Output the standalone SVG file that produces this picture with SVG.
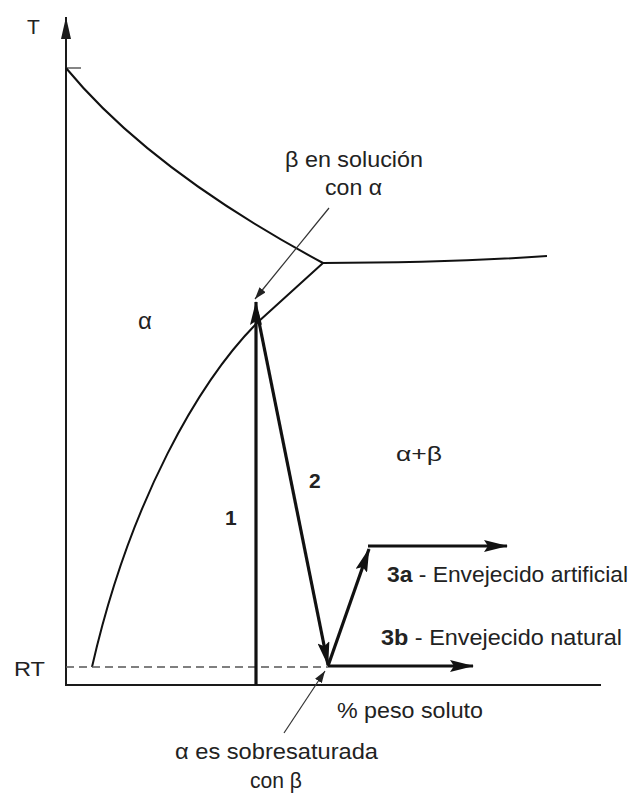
<svg xmlns="http://www.w3.org/2000/svg" width="637" height="796" viewBox="0 0 637 796">
<defs>
<style>
.ax{stroke:#1a1a1a;stroke-width:2;fill:none}
.cv{stroke:#111;stroke-width:2;fill:none}
.thick{stroke:#111;stroke-width:3.2;fill:none}
.thin{stroke:#333;stroke-width:1.2;fill:none}
.dash{stroke:#555;stroke-width:1.6;stroke-dasharray:8 5;fill:none}
text{font-family:"Liberation Sans",Arial,sans-serif;fill:#222}
.lbl{font-size:22px}
.num{font-size:21px;font-weight:bold}
</style>
<marker id="big" viewBox="0 0 24 12" refX="23" refY="6" markerWidth="24" markerHeight="12" markerUnits="userSpaceOnUse" orient="auto">
<path d="M0,0 L24,6 L0,12 L4,6 z" fill="#111"/>
</marker>
<marker id="small" viewBox="0 0 12 8" refX="12" refY="4" markerWidth="12" markerHeight="8" markerUnits="userSpaceOnUse" orient="auto">
<path d="M0,0 L12,4 L0,8 z" fill="#222"/>
</marker>
<marker id="axh" viewBox="0 0 22 10" refX="22" refY="5" markerWidth="22" markerHeight="10" markerUnits="userSpaceOnUse" orient="auto">
<path d="M0,0 L22,5 L0,10 z" fill="#1a1a1a"/>
</marker>
</defs>
<g id="axes">
<line class="ax" x1="66" y1="685" x2="66" y2="17" marker-end="url(#axh)"/>
<line class="ax" x1="65" y1="685" x2="601" y2="685"/>
<line class="thin" x1="66" y1="68" x2="81" y2="68"/>
<text id="label-T" x="27" y="34" style="font-size:21px">T</text>
<text id="label-RT" x="14" y="676" style="font-size:21px" textLength="31" lengthAdjust="spacingAndGlyphs">RT</text>
<text id="label-axis-x" class="lbl" x="337" y="718" textLength="146" lengthAdjust="spacingAndGlyphs">% peso soluto</text>
</g>
<g id="phase-boundaries">
<path class="cv" d="M66,68 Q150,170 323,263"/>
<path class="cv" d="M323,263 Q450,263 547,256"/>
<path class="cv" d="M323,263 L258,322 C200,380 130,500 92,667"/>
<line class="dash" x1="66" y1="667" x2="328" y2="667"/>
</g>
<g id="regions">
<text id="region-alpha" x="138" y="329" style="font-size:24px">α</text>
<text id="region-alpha-beta" x="396" y="461" style="font-size:21px" textLength="46" lengthAdjust="spacingAndGlyphs">α+β</text>
</g>
<g id="connectors">
<line id="step-1" class="thick" x1="256" y1="685" x2="256" y2="302" marker-end="url(#big)"/>
<line id="step-2" class="thick" x1="257" y1="312" x2="328" y2="665" marker-end="url(#big)"/>
<line id="step-3a-rise" class="thick" x1="328" y1="666" x2="369" y2="549" marker-end="url(#big)"/>
<line id="step-3a" class="thick" x1="368" y1="546" x2="507" y2="546" marker-end="url(#big)"/>
<line id="step-3b" class="thick" x1="328" y1="666" x2="473" y2="666" marker-end="url(#big)"/>
<line id="callout-top" class="thin" x1="329" y1="208" x2="255" y2="299" marker-end="url(#small)"/>
<line id="callout-bottom" class="thin" x1="284" y1="733" x2="325" y2="671" marker-end="url(#small)"/>
</g>
<g id="step-labels">
<text id="label-1" class="num" x="225" y="525">1</text>
<text id="label-2" class="num" x="309" y="488">2</text>
<text id="label-3a" class="lbl" x="387" y="582" textLength="241" lengthAdjust="spacingAndGlyphs"><tspan font-weight="bold">3a</tspan> - Envejecido artificial</text>
<text id="label-3b" class="lbl" x="381" y="645" textLength="241" lengthAdjust="spacingAndGlyphs"><tspan font-weight="bold">3b</tspan> - Envejecido natural</text>
</g>
<g id="annotation-top">
<text class="lbl" x="285" y="167" textLength="138" lengthAdjust="spacingAndGlyphs">β en solución</text>
<text class="lbl" x="325" y="195" textLength="57" lengthAdjust="spacingAndGlyphs">con α</text>
</g>
<g id="annotation-bottom">
<text class="lbl" x="175" y="759" textLength="203" lengthAdjust="spacingAndGlyphs">α es sobresaturada</text>
<text class="lbl" x="250" y="788" textLength="52" lengthAdjust="spacingAndGlyphs">con β</text>
</g>
</svg>
